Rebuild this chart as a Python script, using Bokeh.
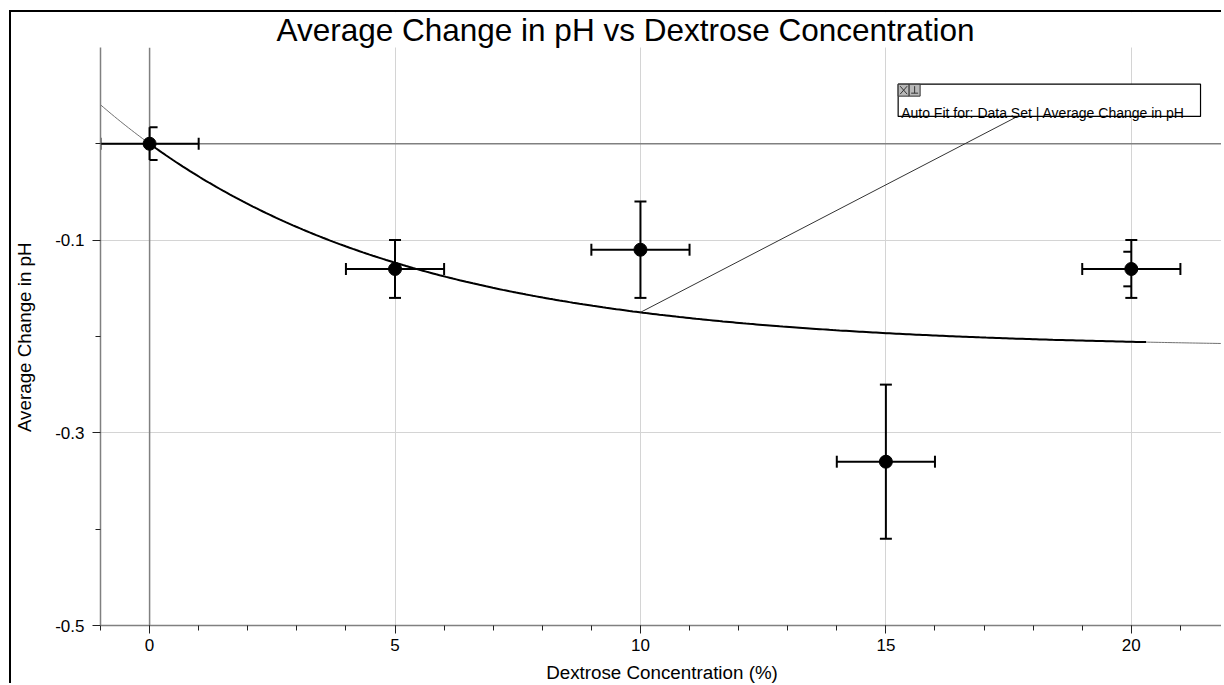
import numpy as np
from bokeh.plotting import figure
from bokeh.models import Range1d, FixedTicker, Label
from bokeh.embed import file_html
from bokeh.resources import INLINE

# ---------------- data ----------------
concentration = [0, 5, 10, 15, 20]
avg_change = [0.0, -0.13, -0.11, -0.33, -0.13]
x_err = [1, 1, 1, 1, 1]
y_err = [0.017, 0.03, 0.05, 0.08, 0.03]
full_caps = [False, True, True, True, True]
# secondary half-cap y error markers
half_x = [0, 20]
half_y = [0.0, -0.13]
half_err = [0.017, 0.018]
half_side = [1, -1]

x_major = [0, 5, 10, 15, 20]
x_minor = list(range(-1, 22))
y_major = [-0.5, -0.3, -0.1]
y_minor = [-0.4, -0.2, 0.0]
y_labels = {-0.5: "-0.5", -0.3: "-0.3", -0.1: "-0.1"}

# auto fit (natural exponent): y = A*exp(-C*x) + B
FIT_A, FIT_C, FIT_B = 0.212, 0.1746, -0.212

title = "Average Change in pH vs Dextrose Concentration"
x_label = "Dextrose Concentration (%)"
y_label = "Average Change in pH"
fit_label = "Auto Fit for: Data Set | Average Change in pH"

# ---------------- layout ----------------
W, H = 1212, 673
BL, BR, BT, BB = 88, 0, 0, 58
TOP_GAP = 35                      # pixels between canvas top and the graph area
FW, FH = W - BL - BR, H - BT - BB
X0 = -1.0
X1 = X0 + FW / 49.13
Y0, YTOP = -0.5, 0.1
PY = (YTOP - Y0) / (FH - TOP_GAP)  # data y per pixel
Y1 = YTOP + TOP_GAP * PY
PX = (X1 - X0) / FW                # data x per pixel

FONT = "Liberation Sans"

p = figure(width=W, height=H, output_backend="svg", toolbar_location=None, title=None,
           x_range=Range1d(X0, X1), y_range=Range1d(Y0, Y1),
           min_border_left=BL, min_border_right=BR, min_border_top=BT, min_border_bottom=BB)
p.styles = {"margin-left": "9px", "margin-top": "10px",
            "border-left": "2px solid black", "border-top": "2px solid black"}
p.outline_line_color = None
p.background_fill_color = "white"
p.border_fill_color = "white"

for ax in (p.xaxis[0], p.yaxis[0]):
    ax.axis_line_color = "#808080"
    ax.axis_line_width = 1.5
    ax.major_tick_line_color = "#222222"
    ax.minor_tick_line_color = "#222222"
    ax.major_tick_in = 0
    ax.minor_tick_in = 0
    ax.major_tick_out = 8
    ax.minor_tick_out = 5
    ax.major_label_text_font = FONT
    ax.major_label_text_font_size = "17px"
    ax.major_label_text_color = "black"
    ax.axis_label_text_font = FONT
    ax.axis_label_text_font_size = "18.8px"
    ax.axis_label_text_font_style = "normal"
    ax.axis_label_text_color = "black"

p.xaxis.ticker = FixedTicker(ticks=x_major, minor_ticks=x_minor)
p.yaxis.ticker = FixedTicker(ticks=y_major, minor_ticks=y_minor)
p.yaxis.bounds = (Y0, YTOP)
p.yaxis.major_label_overrides = y_labels
p.xaxis.major_label_standoff = 5
p.yaxis.major_label_standoff = 8
p.xaxis.axis_label = x_label
# trailing no-break spaces keep the label centred on the graph area (not the title strip)
p.yaxis.axis_label = y_label + "\u00a0" * 7
p.xaxis.axis_label_standoff = 8
p.yaxis.axis_label_standoff = 17

p.xgrid.ticker = FixedTicker(ticks=[t for t in x_major if t != 0])
p.ygrid.ticker = FixedTicker(ticks=[t for t in y_major if t != Y0])
p.xgrid.grid_line_color = "#d4d4d4"
p.ygrid.grid_line_color = "#d4d4d4"

# zero lines
p.segment([X0, 0], [0, Y0], [X1, 0], [0, YTOP], line_color="#808080", line_width=1.5)
# blank strip above the graph area (title region)
p.quad(left=[X0], right=[X1], bottom=[YTOP], top=[Y1], fill_color="white", line_color=None)
p.add_layout(Label(x=176, y=FH - TOP_GAP + 16, x_units="screen", y_units="screen", text=title,
                   text_font=FONT, text_font_size="31.5px", text_color="black",
                   text_align="left", text_baseline="alphabetic"))

# ---------------- fit curve ----------------
xf = np.linspace(X0, X1, 400)
p.line(xf, FIT_A * np.exp(-FIT_C * xf) + FIT_B, line_color="#707070", line_width=1)
xt = np.linspace(0, 20.3, 300)
p.line(xt, FIT_A * np.exp(-FIT_C * xt) + FIT_B, line_color="black", line_width=2)

# ---------------- error bars ----------------
cx = np.array(concentration, float)
cy = np.array(avg_change, float)
ex = np.array(x_err, float)
ey = np.array(y_err, float)
fc = np.array(full_caps)

p.segment(cx - ex, cy, cx + ex, cy, line_color="black", line_width=2)
p.segment(cx, cy - ey, cx, cy + ey, line_color="black", line_width=2)
capy = 6 * PY
p.segment(cx - ex, cy - capy, cx - ex, cy + capy, line_color="black", line_width=2)
p.segment(cx + ex, cy - capy, cx + ex, cy + capy, line_color="black", line_width=2)
capx = 6 * PX
p.segment(cx[fc] - capx, (cy + ey)[fc], cx[fc] + capx, (cy + ey)[fc], line_color="black", line_width=2)
p.segment(cx[fc] - capx, (cy - ey)[fc], cx[fc] + capx, (cy - ey)[fc], line_color="black", line_width=2)
hx = np.array(half_x, float)
hy = np.array(half_y, float)
he = np.array(half_err, float)
hs = np.array(half_side, float)
p.segment(hx, hy + he, hx + hs * 8 * PX, hy + he, line_color="black", line_width=2)
p.segment(hx, hy - he, hx + hs * 8 * PX, hy - he, line_color="black", line_width=2)

p.scatter(cx, cy, size=13, fill_color="black", line_color="black")

# ---------------- fit annotation box ----------------
bx0, bx1 = 15.25, 21.41
by0, by1 = 0.0283, 0.0618
p.segment([10], [FIT_A * np.exp(-FIT_C * 10) + FIT_B], [17.68], [by0], line_color="#333333", line_width=1)
p.quad(left=[bx0], right=[bx1], bottom=[by0], top=[by1], fill_color="white", line_color="black", line_width=1.2)
iw, ih = 11 * PX, 12 * PY
p.quad(left=[bx0, bx0 + iw], right=[bx0 + iw, bx0 + 2 * iw], bottom=[by1 - ih] * 2, top=[by1] * 2,
       fill_color="#b8b8b8", line_color="#333333", line_width=1)
p.segment([bx0 + 2 * PX, bx0 + 2 * PX], [by1 - 2 * PY, by1 - 10 * PY], [bx0 + 9 * PX, bx0 + 9 * PX],
          [by1 - 10 * PY, by1 - 2 * PY], line_color="#333333", line_width=1)
p.segment([bx0 + iw + 5.5 * PX, bx0 + iw + 2 * PX], [by1 - 2 * PY, by1 - 9 * PY],
          [bx0 + iw + 5.5 * PX, bx0 + iw + 9 * PX], [by1 - 9 * PY, by1 - 9 * PY], line_color="#333333", line_width=1)
p.add_layout(Label(x=bx0 + 3 * PX, y=0.0318, text=fit_label, text_font=FONT, text_font_size="14px",
                   text_color="black", text_baseline="alphabetic", text_align="left"))

open("out.html", "w").write(file_html(p, INLINE))
